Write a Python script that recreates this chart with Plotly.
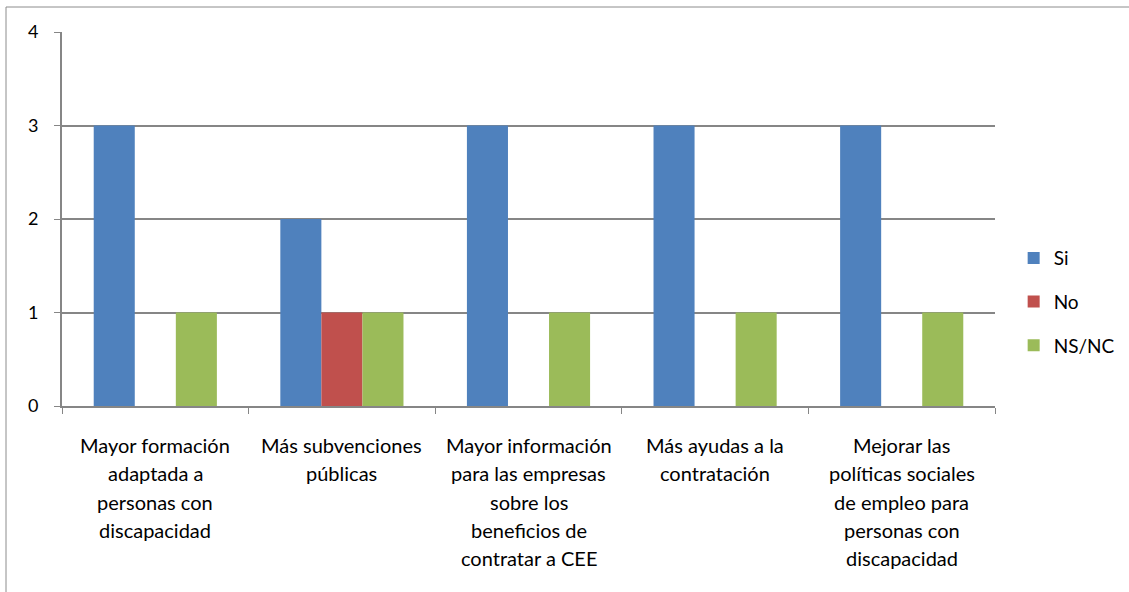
import plotly.graph_objects as go

categories = [
    "Mayor formación adaptada a personas con discapacidad",
    "Más subvenciones públicas",
    "Mayor información para las empresas sobre los beneficios de contratar a CEE",
    "Más ayudas a la contratación",
    "Mejorar las políticas sociales de empleo para personas con discapacidad",
]
label_lines = [
    ["Mayor formación", "adaptada a", "personas con", "discapacidad"],
    ["Más subvenciones", "públicas"],
    ["Mayor información", "para las empresas", "sobre los", "beneficios de", "contratar a CEE"],
    ["Más ayudas a la", "contratación"],
    ["Mejorar las", "políticas sociales", "de empleo para", "personas con", "discapacidad"],
]
series_names = ["Si", "No", "NS/NC"]
si_values = [3, 2, 3, 3, 3]
no_values = [0, 1, 0, 0, 0]
nsnc_values = [1, 1, 1, 1, 1]
colors = ["#4F81BD", "#C0504D", "#9BBB59"]

FONT = "Lato, Carlito, Calibri, sans-serif"

fig = go.Figure()
for name, vals, col in zip(series_names, [si_values, no_values, nsnc_values], colors):
    fig.add_trace(go.Bar(
        x=categories, y=vals, name=name, marker=dict(color=col, line=dict(width=0)),
        legendgroup=name,
    ))

annotations = []
for cat, lines in zip(categories, label_lines):
    for i, line in enumerate(lines):
        annotations.append(dict(
            x=cat, xref="x", y=0, yref="paper", yanchor="middle", xanchor="center",
            yshift=-(39 + 28.3 * i), text=line, showarrow=False,
            font=dict(family=FONT, size=20, color="#000000"),
        ))

fig.update_layout(
    width=1129, height=592,
    margin=dict(l=62, r=134, t=32, b=186, autoexpand=False),
    paper_bgcolor="white", plot_bgcolor="white",
    barmode="group", bargap=0.34, bargroupgap=0,
    font=dict(family=FONT, size=18, color="#000000"),
    showlegend=True,
    legend=dict(x=1.02, xanchor="left", y=0.278, yanchor="middle",
                font=dict(family=FONT, size=19), tracegroupgap=16,
                itemwidth=30, bgcolor="rgba(0,0,0,0)"),
    annotations=annotations,
    shapes=[dict(type="rect", xref="paper", yref="paper",
                 x0=(6 - 62) / 933, x1=1.3, y0=-0.6, y1=(406 - 7) / 374,
                 line=dict(color="#8c8c8c", width=1), fillcolor="rgba(0,0,0,0)", layer="below")],
)
fig.update_xaxes(
    type="category", showticklabels=False, showgrid=False,
    showline=True, linecolor="#868686", linewidth=2,
    ticks="outside", tickson="boundaries", ticklen=6, tickcolor="#868686", tickwidth=1,
)
fig.update_yaxes(
    range=[0, 4], dtick=1, showgrid=True, gridcolor="#868686", gridwidth=1.5,
    showline=True, linecolor="#868686", linewidth=2, zeroline=False,
    ticks="outside", ticklen=6, tickcolor="#868686", tickwidth=1,
    ticklabelstandoff=12, tickfont=dict(family=FONT, size=18),
)

fig.write_html("out.html", config={"displayModeBar": False},
               post_script="document.body.style.margin='0';")
